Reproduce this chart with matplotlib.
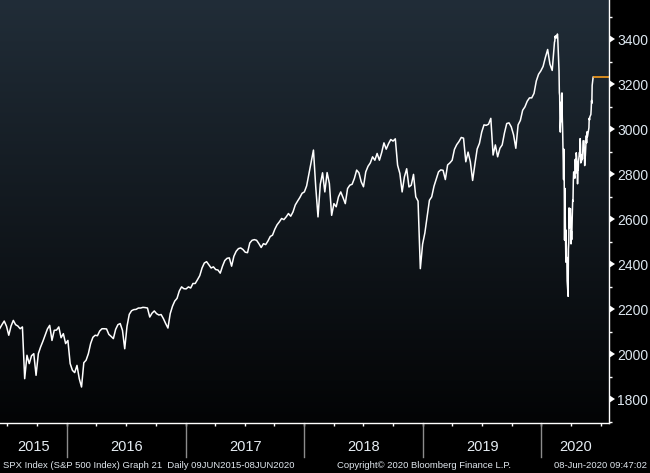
import numpy as np
import pandas as pd
import matplotlib
matplotlib.use('Agg')
import matplotlib.pyplot as plt
import matplotlib.dates as mdates
import matplotlib.transforms as mtransforms
from matplotlib.colors import LinearSegmentedColormap

# ------------------------------- Data -------------------------------

# weekly closes, Mondays from 08JUN2015 to 10FEB2020
weekly_spx = [
    2114, 2132, 2148, 2125, 2085, 2126, 2151, 2132, 2126, 2114,
    2122, 1892, 1996, 1959, 1994, 2003, 1907, 2003, 2033, 2058,
    2086, 2113, 2129, 2062, 2107, 2108, 2122, 2074, 2092, 2048,
    2062, 1959, 1929, 1919, 1951, 1892, 1855, 1963, 1974, 2003,
    2048, 2076, 2085, 2083, 2104, 2114, 2114, 2113, 2089, 2080,
    2070, 2111, 2132, 2137, 2107, 2025, 2125, 2178, 2194, 2199,
    2200, 2206, 2206, 2209, 2208, 2206, 2166, 2183, 2193, 2181,
    2175, 2177, 2159, 2137, 2117, 2181, 2214, 2237, 2249, 2282,
    2300, 2292, 2291, 2300, 2295, 2315, 2315, 2332, 2350, 2384,
    2406, 2412, 2398, 2384, 2389, 2377, 2375, 2361, 2392, 2417,
    2427, 2429, 2392, 2436, 2458, 2470, 2473, 2466, 2454, 2452,
    2495, 2507, 2510, 2507, 2492, 2475, 2492, 2488, 2504, 2524,
    2530, 2556, 2576, 2589, 2604, 2599, 2611, 2626, 2614, 2633,
    2664, 2681, 2697, 2716, 2722, 2749, 2802, 2855, 2908, 2745,
    2611, 2756, 2807, 2722, 2808, 2759, 2618, 2670, 2656, 2700,
    2722, 2697, 2670, 2737, 2752, 2756, 2782, 2819, 2807, 2767,
    2745, 2811, 2836, 2851, 2878, 2863, 2893, 2863, 2897, 2940,
    2912, 2936, 2955, 2948, 2958, 2841, 2804, 2722, 2789, 2825,
    2744, 2752, 2800, 2700, 2681, 2381, 2490, 2540, 2614, 2685,
    2700, 2747, 2779, 2811, 2820, 2818, 2777, 2842, 2851, 2863,
    2911, 2932, 2946, 2964, 2961, 2856, 2899, 2856, 2773, 2845,
    2913, 2938, 2988, 3020, 3018, 3023, 3049, 2886, 2931, 2878,
    2916, 2931, 2984, 3026, 3029, 3011, 2976, 2916, 3020, 3040,
    3085, 3100, 3125, 3140, 3140, 3160, 3215, 3245, 3260, 3280,
    3320, 3355, 3290, 3262, 3388,
]

# daily closes, 11FEB2020 to 08JUN2020
daily_spx = [
    3392, 3414, 3408, 3415, 3405, 3424, 3408, 3373, 3260, 3163, 3150, 3013, 2988,
    3122, 3035, 3162, 3055, 3004, 2777, 2912, 2770, 2508, 2738, 2410, 2552, 2420,
    2431, 2327, 2258, 2468, 2497, 2651, 2562, 2648, 2606,
    2491, 2548, 2510, 2685, 2680, 2771, 2811, 2783, 2867, 2804, 2821, 2896, 2844,
    2758, 2820, 2818, 2858, 2898, 2883, 2959, 2932,
    2851, 2862, 2888, 2868, 2900, 2949, 2949, 2889, 2839, 2871, 2882, 2972, 2940,
    2989, 2966, 2971, 3007, 3050, 3042, 3056,
    3066, 3089, 3128, 3116, 3195, 3232,
]

weekly_dates = pd.date_range('2015-06-08', periods=len(weekly_spx), freq='W-MON')
daily_dates = pd.bdate_range('2020-02-11', '2020-06-08', freq='C',
                             holidays=['2020-02-17', '2020-04-10', '2020-05-25'])

spx = pd.concat([pd.Series(weekly_spx, index=weekly_dates),
                 pd.Series(daily_spx, index=daily_dates[:len(daily_spx)])])

years = [2015, 2016, 2017, 2018, 2019, 2020]
y_major = np.arange(1800, 3401, 200)
y_minor = np.arange(1700, 3501, 200)

x_left = pd.Timestamp('2015-06-09')
x_right = pd.Timestamp('2020-07-27')

# ------------------------------- Plot -------------------------------

plt.rcParams['font.family'] = ['Liberation Sans', 'DejaVu Sans']

fig = plt.figure(figsize=(6.5, 4.73), dpi=100, facecolor='black')
rect = [0.0, 0.1057, 0.937, 0.8943]

# gradient background
bg = fig.add_axes(rect, zorder=0)
grad = np.linspace(0, 1, 256).reshape(-1, 1)
cmap = LinearSegmentedColormap.from_list('bg', ['#212d38', '#030405'])
bg.imshow(grad, cmap=cmap, aspect='auto', extent=[0, 1, 0, 1])
bg.set_axis_off()

ax = fig.add_axes(rect, zorder=1)
ax.set_facecolor('none')

ax.plot(spx.index, spx.values, color='white', linewidth=1.1)
ax.hlines(spx.iloc[-1], spx.index[-1], x_right, color='#f89c1c', linewidth=1.2)

ax.set_xlim(x_left, x_right)
ax.set_ylim(1695, 3575)

# y axis on the right, triangle markers on the major ticks
ax.yaxis.tick_right()
ax.set_yticks(y_major)
ax.set_yticks(y_minor, minor=True)
ax.tick_params(axis='y', which='major', length=5.5, width=0, pad=0.5,
               colors='white', labelcolor='#dde7f0', labelsize=10)
ax.tick_params(axis='y', which='minor', length=2.5, width=1, colors='white')
for t in ax.yaxis.get_major_ticks():
    t.tick2line.set_marker(9)
    t.tick2line.set_markersize(6)
    t.tick2line.set_markerfacecolor('white')

# x axis: quarter ticks, year separators and labels
quarters = pd.date_range('2015-07-01', '2020-07-01', freq='QS')
ax.set_xticks(quarters)
ax.set_xticklabels([])
ax.tick_params(axis='x', which='major', length=2.5, width=1, colors='white', direction='out')

for s in ['left', 'top']:
    ax.spines[s].set_visible(False)
for s in ['right', 'bottom']:
    ax.spines[s].set_color('white')
    ax.spines[s].set_linewidth(1)

trans = mtransforms.blended_transform_factory(ax.transData, ax.transAxes)
bounds = [x_left] + [pd.Timestamp(f'{y}-01-01') for y in years[1:]] + [x_right]
for b in bounds[1:-1]:
    ax.axvline(b, ymin=-0.081, ymax=0, clip_on=False, color='#8c8c8c', linewidth=1)
for i, y in enumerate(years):
    mid = (mdates.date2num(bounds[i]) + mdates.date2num(bounds[i + 1])) / 2
    ax.text(mid, -0.057, str(y), transform=trans, ha='center', va='center',
            color='#e6edf3', fontsize=10.5)

# footer
fig.text(0.005, 0.015, 'SPX Index (S&P 500 Index) Graph 21  Daily 09JUN2015-08JUN2020',
         color='#e0e7ee', fontsize=6.8, va='center', ha='left')
fig.text(0.518, 0.015, 'Copyright\u00a9 2020 Bloomberg Finance L.P.',
         color='#e0e7ee', fontsize=6.8, va='center', ha='left')
fig.text(0.996, 0.015, '08-Jun-2020 09:47:02',
         color='#e0e7ee', fontsize=6.8, va='center', ha='right')

fig.savefig('out.png', dpi=100, facecolor='black')
